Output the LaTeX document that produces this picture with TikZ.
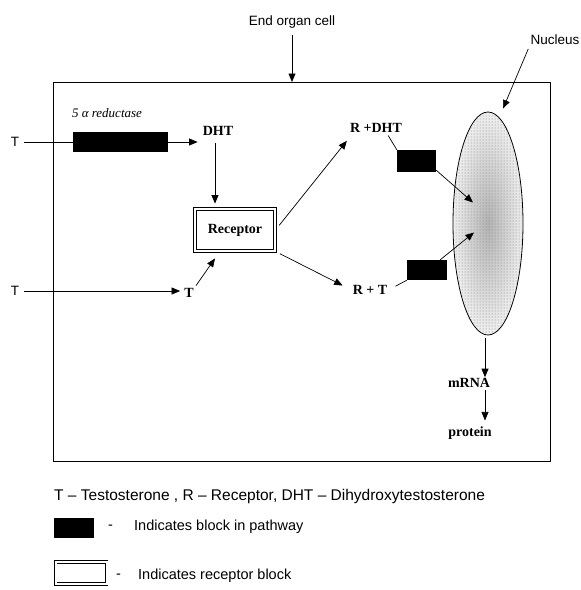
\documentclass[tikz,border=0pt]{standalone}
\usepackage{fontspec}
\setmainfont{Liberation Serif}
\setsansfont{Liberation Sans}
\usetikzlibrary{arrows.meta,shapes.geometric,patterns}
\begin{document}
\begin{tikzpicture}[x=1pt,y=-1pt,
  ln/.style={line width=0.7pt},
  arr/.style={line width=0.7pt,-{Triangle[length=8.5pt,width=7pt]}},
  lbl/.style={font=\bfseries\fontsize{14}{16}\selectfont, inner sep=1pt},
  sans/.style={font=\sffamily\fontsize{13.5}{16}\selectfont, inner sep=1pt},
  leg/.style={font=\sffamily\fontsize{14.5}{16}\selectfont, inner sep=1pt, anchor=west},
  blk/.style={fill=black, draw=none, inner sep=0pt},
  rbox/.style={draw, double, double distance=2pt, line width=0.9pt, inner sep=0pt}
]
\useasboundingbox (0,0) rectangle (581,590);

% cell
\node[draw, ln, minimum width=497pt, minimum height=379pt, anchor=north west, inner sep=0pt] (cell) at (53,82) {};
\node[sans] (cellLabel) at (292,22) {End organ cell};
\draw[arr, shorten <=6pt] (cellLabel.south) -- (cellLabel.south |- cell.north);

% nucleus
\node[ellipse, draw, line width=0.8pt, minimum width=70pt, minimum height=223pt, inner sep=0pt,
      inner color=black!30, outer color=black!6,
      postaction={pattern=dots, pattern color=black!50}] (nucleus) at (488,223.5) {};
\node[sans] (nucLabel) at (555,40) {Nucleus};
\draw[arr, shorten <=3pt] (nucLabel.south west) -- ([xshift=15pt,yshift=3pt]nucleus.north);

% top pathway
\node[sans] (T1) at (15,142) {T};
\node[blk, minimum width=95pt, minimum height=20pt] (blockA) at (120.5,142) {};
\node[font=\itshape\fontsize{13}{15}\selectfont, inner sep=1pt] (red) at (107,113) {5 α reductase};
\node[lbl] (DHT) at (218,131) {DHT};
\draw[ln, shorten <=4pt] (T1.east) -- (blockA.west);
\draw[arr, shorten >=4pt] (blockA.east) -- (blockA.east -| DHT.west);

% receptor
\node[rbox, lbl, minimum width=80pt, minimum height=42pt] (receptor) at (235,230) {Receptor};
\draw[arr, shorten <=6pt, shorten >=5pt] ([xshift=-3pt]DHT.south) -- ([xshift=-3pt]DHT.south |- receptor.north);

% bottom pathway
\node[sans] (T3) at (15,291) {T};
\node[lbl] (T2) at (189,293) {T};
\draw[arr, shorten <=4pt, shorten >=3pt] (T3.east) -- (T3.east -| T2.west);
\draw[arr, shorten <=2pt] (T2.north east) -- ([xshift=-20pt,yshift=-7pt]receptor.south);

% complexes
\node[lbl] (RDHT) at (376,128) {R +DHT};
\node[lbl] (RT) at (370,290) {R + T};
\draw[arr, shorten <=6pt] (receptor.east) -- ([xshift=-2pt,yshift=-7pt]RDHT.south west);
\draw[arr, shorten <=5pt, shorten >=10pt] (receptor.south east) -- (RT.west);

% blocks towards nucleus
\node[blk, minimum width=39pt, minimum height=22pt] (blockB) at (416.5,161) {};
\node[blk, minimum width=40pt, minimum height=20pt] (blockC) at (427,270) {};
\draw[ln, shorten <=2pt] ([xshift=-16pt]RDHT.south east) -- (blockB.north west);
\draw[arr] ([yshift=2pt]blockB.south east) -- ([xshift=-15pt,yshift=21pt]nucleus.center);
\draw[ln, shorten <=8pt] (RT.east) -- (blockC.south west);
\draw[arr] ([xshift=-7pt]blockC.north east) -- ([xshift=-14pt,yshift=-9pt]nucleus.center);

% products
\node[lbl] (mRNA) at (469,383) {mRNA};
\node[lbl] (protein) at (470,433) {protein};
\coordinate (mx) at ([xshift=-3pt]nucleus.south);
\draw[arr, shorten <=3pt] (mx) -- (mx |- mRNA.north);
\draw[arr, shorten <=1pt, shorten >=5pt] (mx |- mRNA.south) -- (mx |- protein.north);

% legend
\node[leg, font=\sffamily\fontsize{15.5}{17}\selectfont] (key) at (53,496) {T – Testosterone , R – Receptor, DHT – Dihydroxytestosterone};
\node[blk, minimum width=40pt, minimum height=20pt] (legBlk) at (74,528) {};
\node[leg] (legDash1) at (107,527) {-};
\node[leg] (legTxt1) at (133,527) {Indicates block in pathway};
\node[rbox, minimum width=51pt, minimum height=22pt] (legBox) at (81,573) {};
\node[leg] (legDash2) at (115,576) {-};
\node[leg] (legTxt2) at (137,576) {Indicates receptor block};
\end{tikzpicture}
\end{document}
